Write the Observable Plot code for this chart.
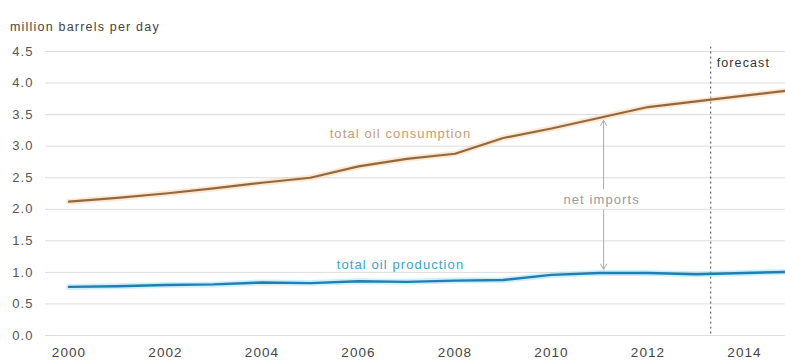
<!DOCTYPE html>
<html><head><meta charset="utf-8">
<script src="https://cdn.jsdelivr.net/npm/d3@7"></script>
<script src="https://cdn.jsdelivr.net/npm/@observablehq/plot@0.6"></script>
<style>
body{margin:0;background:#fff;font-family:"Liberation Sans",Arial,sans-serif;}
#wrap{position:relative;width:785px;height:362px;overflow:hidden;}
#title{position:absolute;left:10px;top:20px;font-size:12.5px;color:#444;letter-spacing:1.2px;z-index:2;}
#chart{position:absolute;left:0;top:0;}
#chart svg text{letter-spacing:1.1px;}
</style></head>
<body><div id="wrap"><div id="title">million barrels per day</div><div id="chart"></div></div>
<script>
const years = [2000,2001,2002,2003,2004,2005,2006,2007,2008,2009,2010,2011,2012,2013,2014,2015];
const consumption = [2.12,2.18,2.25,2.33,2.42,2.50,2.68,2.80,2.88,3.13,3.28,3.45,3.62,3.71,3.80,3.89];
const production = [0.77,0.78,0.80,0.81,0.84,0.83,0.86,0.85,0.87,0.88,0.96,0.99,0.99,0.97,0.99,1.01];
const yTicks = [0,0.5,1,1.5,2,2.5,3,3.5,4,4.5];
const xTicks = [2000,2002,2004,2006,2008,2010,2012,2014];
const forecastYear = 2013.3;
const seriesLabels = ["total oil consumption","total oil production"];
const seriesLabelX = [2006.87, 2006.87];
const seriesLabelY = [3.20, 1.125];
const netImportsX = 2011.08;
const netImportsTop = 3.41, netImportsBottom = 1.05, netImportsTextY = 2.155;

const cons = years.map((y,i)=>({year:y, value:consumption[i]}));
const prod = years.map((y,i)=>({year:y, value:production[i]}));

const chart = Plot.plot({
  width: 785, height: 362,
  marginTop: 51, marginBottom: 27, marginLeft: 45, marginRight: 0,
  style: {fontFamily: '"Liberation Sans", Arial, sans-serif', background: "#fff"},
  x: {domain: [1999.513, 2014.85]},
  y: {domain: [0, 4.5]},
  marks: [
    Plot.gridY(yTicks, {stroke: "#dcdcdc", strokeOpacity: 1}),
    Plot.axisY(yTicks, {tickSize: 0, tickPadding: 12, tickFormat: d3.format(".1f"), fontSize: 13, fill: "#555", label: null}),
    Plot.axisX(xTicks, {tickSize: 0, tickPadding: 12, tickFormat: d => String(d), fontSize: 13.5, fill: "#444", label: null}),
    Plot.ruleX([forecastYear], {y1: 4.57, y2: 0, stroke: "#444", strokeDasharray: "2,3", strokeWidth: 1}),
    Plot.text(["forecast"], {x: forecastYear, y: 4.31, dx: 6, textAnchor: "start", fill: "#333", fontSize: 12.5}),
    Plot.line(cons, {x: "year", y: "value", stroke: "#f8c88c", strokeWidth: 6, strokeOpacity: 0.4, clip: true}),
    Plot.line(cons, {x: "year", y: "value", stroke: "#94683f", strokeWidth: 2.2, clip: true}),
    Plot.line(prod, {x: "year", y: "value", stroke: "#7fd8f5", strokeWidth: 6, strokeOpacity: 0.4, clip: true}),
    Plot.line(prod, {x: "year", y: "value", stroke: "#1f7fb3", strokeWidth: 2.4, clip: true}),
    Plot.text([0], {x: seriesLabelX[0], y: seriesLabelY[0], text: () => seriesLabels[0], fill: "#c99a72", fontSize: 13}),
    Plot.text([1], {x: seriesLabelX[1], y: seriesLabelY[1], text: () => seriesLabels[1], fill: "#3a9fd0", fontSize: 13}),
    Plot.arrow([0], {x1: netImportsX, x2: netImportsX, y1: netImportsTextY + 0.17, y2: netImportsTop, stroke: "#aaa", strokeWidth: 1, headLength: 9}),
    Plot.arrow([0], {x1: netImportsX, x2: netImportsX, y1: netImportsTextY - 0.17, y2: netImportsBottom, stroke: "#aaa", strokeWidth: 1, headLength: 9}),
    Plot.text(["net imports"], {x: netImportsX, y: netImportsTextY, dx: -2, fill: "#999", fontSize: 13})
  ]
});
document.getElementById("chart").appendChild(chart);
</script>
</body></html>
